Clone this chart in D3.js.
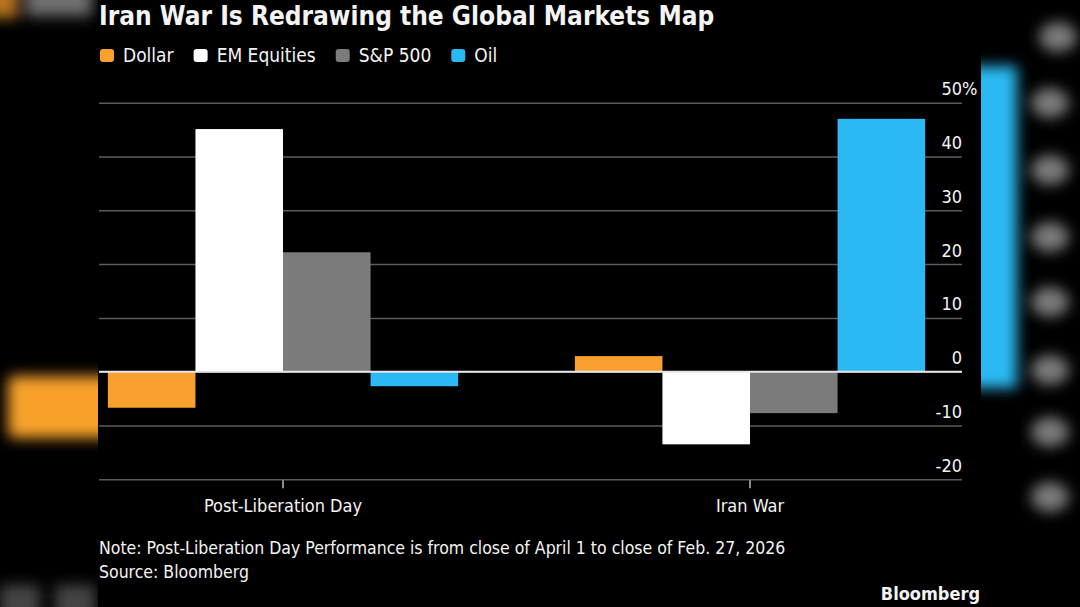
<!DOCTYPE html>
<html>
<head>
<meta charset="utf-8">
<script src="https://cdn.jsdelivr.net/npm/d3@7"></script>
<style>
  html, body { margin: 0; padding: 0; background: #000; }
  svg { display: block; }
  text { font-family: "DejaVu Sans Condensed", "DejaVu Sans", sans-serif; font-stretch: condensed; fill: #f4f4f4; }
</style>
</head>
<body>
<div id="chart"></div>
<script>
// Data (% change)
const categories = ['Post-Liberation Day', 'Iran War'];
const series = ['Dollar', 'EM Equities', 'S&P 500', 'Oil'];
const dollar = [-6.7, 2.9];
const emEquities = [45.1, -13.5];
const sp500 = [22.2, -7.7];
const oil = [-2.7, 47.0];
const yTicks = [-20, -10, 0, 10, 20, 30, 40, 50];

const colors = ['#f9a12e', '#ffffff', '#7b7b7b', '#2bb9f3'];
const values = [dollar, emEquities, sp500, oil];

const width = 1080, height = 607;
const margin = {top: 102.7, left: 99, right: 118, bottom: 127.7};
const plotRight = width - margin.right; // 962

const svg = d3.select('#chart').append('svg')
  .attr('width', width)
  .attr('height', height)
  .attr('viewBox', [0, 0, width, height]);

svg.append('rect').attr('width', width).attr('height', height).attr('fill', '#000');

// Blurred video background peeking out either side of the panel
const defs = svg.append('defs');
defs.append('filter').attr('id', 'blur')
  .attr('filterUnits', 'userSpaceOnUse')
  .attr('x', -50).attr('y', -50).attr('width', width + 100).attr('height', height + 100)
  .append('feGaussianBlur').attr('stdDeviation', 7);

const bg = svg.append('g').attr('filter', 'url(#blur)');
bg.append('rect').attr('x', -20).attr('y', -20).attr('width', 38).attr('height', 38).attr('fill', '#b8731f');
bg.append('rect').attr('x', 26).attr('y', -20).attr('width', 66).attr('height', 36).attr('fill', '#707070');
bg.append('rect').attr('x', 8).attr('y', 376).attr('width', 110).attr('height', 62).attr('rx', 6).attr('fill', '#f7a12c');
bg.append('rect').attr('x', 0).attr('y', 585).attr('width', 40).attr('height', 40).attr('fill', '#444');
bg.append('rect').attr('x', 55).attr('y', 585).attr('width', 40).attr('height', 40).attr('fill', '#444');
bg.append('rect').attr('x', 965).attr('y', 66).attr('width', 52).attr('height', 322).attr('fill', '#2bb9f3');
[37, 103, 170, 237, 302, 370, 432, 497].forEach((cy, i) => {
  bg.append('ellipse').attr('cx', i === 0 ? 1058 : 1050).attr('cy', cy)
    .attr('rx', 19).attr('ry', 15).attr('fill', '#7a7a7a');
});

// Chart panel
svg.append('rect')
  .attr('x', 98).attr('y', 0).attr('width', 883).attr('height', height)
  .attr('fill', '#000');

// Scales
const x = d3.scaleBand()
  .domain(categories)
  .range([margin.left, 934])
  .paddingInner(0.25)
  .paddingOuter(0.019);

const xs = d3.scaleBand()
  .domain(series)
  .range([0, x.bandwidth()]);

const y = d3.scaleLinear()
  .domain([-20, 50])
  .range([height - margin.bottom, margin.top]);

// Y axis as gridlines with labels on the right
const yAxis = svg.append('g')
  .attr('transform', `translate(${margin.left},0)`)
  .call(d3.axisRight(y).tickValues(yTicks).tickSize(plotRight - margin.left).tickFormat(d => String(d)));
yAxis.select('.domain').remove();
yAxis.selectAll('.tick line').attr('stroke', '#5c5c5c').attr('stroke-width', 1.5);
yAxis.selectAll('.tick text')
  .attr('x', plotRight - margin.left)
  .attr('dy', -8)
  .attr('text-anchor', 'end')
  .style('font-size', '18px')
  .attr('fill', '#f4f4f4');
yAxis.selectAll('.tick').filter(d => d === 50)
  .append('text')
  .attr('x', plotRight - margin.left)
  .attr('dy', -8)
  .style('font-size', '18px')
  .attr('fill', '#f4f4f4')
  .text('%');

// Bars
const groups = svg.append('g').selectAll('g')
  .data(categories)
  .join('g')
  .attr('transform', d => `translate(${x(d)},0)`);

groups.selectAll('rect')
  .data((d, i) => series.map((s, j) => ({s, v: values[j][i], c: colors[j]})))
  .join('rect')
  .attr('x', d => xs(d.s))
  .attr('width', xs.bandwidth())
  .attr('y', d => y(Math.max(0, d.v)))
  .attr('height', d => Math.abs(y(d.v) - y(0)))
  .attr('fill', d => d.c);

// Zero line
svg.append('line')
  .attr('x1', margin.left).attr('x2', plotRight)
  .attr('y1', y(0)).attr('y2', y(0))
  .attr('stroke', '#e6e6e6').attr('stroke-width', 2);

// X axis
const xAxis = svg.append('g')
  .attr('transform', `translate(0,${y(-20) + 1})`)
  .call(d3.axisBottom(x).tickSize(8).tickPadding(11));
xAxis.select('.domain').remove();
xAxis.selectAll('.tick line').attr('stroke', '#bbbbbb').attr('stroke-width', 1.5);
xAxis.selectAll('.tick text').style('font-size', '18px').attr('fill', '#f4f4f4');

// Title
svg.append('text')
  .attr('x', 99).attr('y', 25)
  .style('font-size', '26px').style('font-weight', 'bold')
  .attr('fill', '#ffffff')
  .text('Iran War Is Redrawing the Global Markets Map');

// Legend
const legend = svg.append('g').attr('transform', 'translate(100,49)');
let lx = 0;
series.forEach((s, i) => {
  const g = legend.append('g').attr('transform', `translate(${lx},0)`);
  g.append('rect').attr('width', 14).attr('height', 13).attr('rx', 3).attr('fill', colors[i]);
  const t = g.append('text').attr('x', 23).attr('y', 13).style('font-size', '19px').text(s);
  lx += 23 + t.node().getComputedTextLength() + 20;
});

// Notes
svg.append('text').attr('x', 99).attr('y', 554).style('font-size', '17.5px')
  .text('Note: Post-Liberation Day Performance is from close of April 1 to close of Feb. 27, 2026');
svg.append('text').attr('x', 99).attr('y', 578).style('font-size', '17.5px')
  .text('Source: Bloomberg');
svg.append('text').attr('x', 980).attr('y', 600).attr('text-anchor', 'end')
  .style('font-size', '18px').style('font-weight', 'bold')
  .text('Bloomberg');
</script>
</body>
</html>
